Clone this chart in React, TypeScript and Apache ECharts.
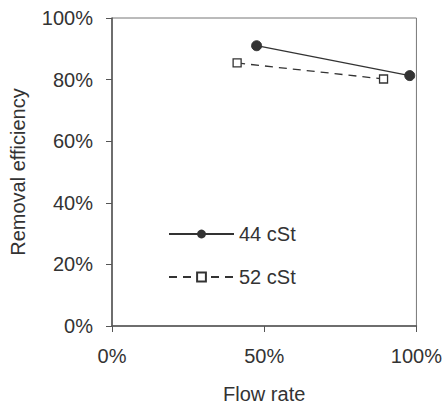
import React, { useEffect, useRef } from "react";
import * as echarts from "echarts";

const seriesNames = ["44 cSt", "52 cSt"];
const flow44 = [0.475, 0.978];
const eff44 = [0.91, 0.813];
const flow52 = [0.411, 0.892];
const eff52 = [0.854, 0.802];

const pct = (v: number) => `${Math.round(v * 100)}%`;
const FONT = "Liberation Sans, Arial, sans-serif";

export default function App() {
  const ref = useRef<HTMLDivElement>(null);
  useEffect(() => {
    if (!ref.current) return;
    const chart = echarts.init(ref.current, undefined, { renderer: "svg" });
    const axisCommon = {
      axisLine: { show: true, lineStyle: { color: "#555", width: 1.5 } },
      axisTick: { show: true, inside: false, length: 6, lineStyle: { color: "#555", width: 1 } },
      splitLine: { show: false },
      nameTextStyle: { color: "#333", fontSize: 20, fontFamily: FONT },
    };
    chart.setOption({
      animation: false,
      backgroundColor: "#fff",
      grid: {
        left: 112,
        right: 28,
        top: 18,
        bottom: 76,
        show: true,
        borderColor: "#777",
        borderWidth: 1,
      },
      legend: {
        orient: "vertical",
        left: 163,
        top: 219,
        itemWidth: 65,
        itemHeight: 11,
        itemGap: 23,
        textStyle: { color: "#333", fontSize: 20, fontFamily: FONT },
        data: seriesNames,
      },
      xAxis: {
        type: "value",
        min: 0,
        max: 1,
        interval: 0.5,
        name: "Flow rate",
        nameLocation: "middle",
        nameGap: 58,
        axisLabel: { formatter: pct, color: "#333", fontSize: 20, fontFamily: FONT, margin: 20 },
        ...axisCommon,
      },
      yAxis: {
        type: "value",
        min: 0,
        max: 1,
        interval: 0.2,
        name: "Removal efficiency",
        nameLocation: "middle",
        nameGap: 84,
        axisLabel: { formatter: pct, color: "#333", fontSize: 20, fontFamily: FONT, margin: 19 },
        ...axisCommon,
      },
      series: [
        {
          name: seriesNames[0],
          type: "line",
          data: flow44.map((x, i) => [x, eff44[i]]),
          symbol: "circle",
          symbolSize: 10,
          lineStyle: { color: "#333", width: 1.3, type: "solid" },
          itemStyle: { color: "#333", borderColor: "#333" },
        },
        {
          name: seriesNames[1],
          type: "line",
          data: flow52.map((x, i) => [x, eff52[i]]),
          symbol: "rect",
          symbolSize: 8,
          lineStyle: { color: "#333", width: 1.3, type: [8, 6] },
          itemStyle: { color: "#fff", borderColor: "#333", borderWidth: 1.3 },
        },
      ],
    });
    return () => chart.dispose();
  }, []);
  return (
    <div
      ref={ref}
      style={{ position: "absolute", left: 0, top: 0, width: 445, height: 409 }}
    />
  );
}
